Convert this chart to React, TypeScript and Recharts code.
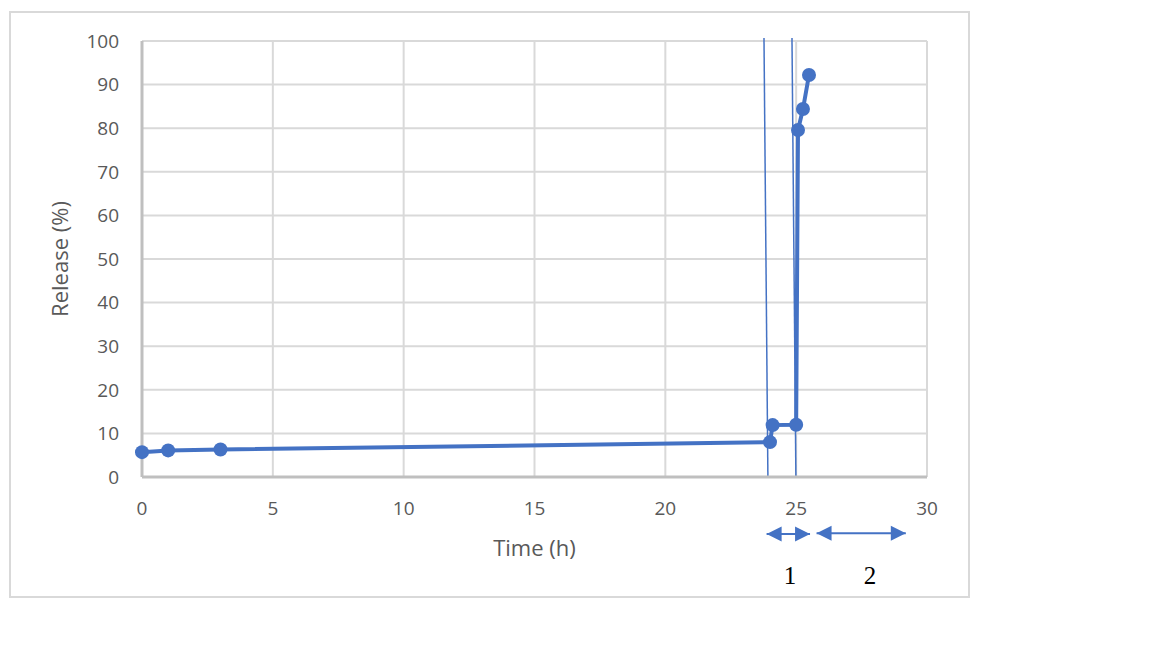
import React from 'react';
import {
  LineChart,
  Line,
  XAxis,
  YAxis,
  CartesianGrid,
  ReferenceLine,
  ReferenceDot,
} from 'recharts';

// release measurements
const times = [0, 1, 3, 24, 24.1, 25, 25.07, 25.26, 25.49];
const release = [5.7, 6.1, 6.3, 8.0, 11.9, 12.0, 79.6, 84.4, 92.2];

const xTicks = [0, 5, 10, 15, 20, 25, 30];
const yTicks = [0, 10, 20, 30, 40, 50, 60, 70, 80, 90, 100];

// hand-drawn marker lines (top x, bottom x)
const markerTopX = [23.77, 24.84];
const markerBottomX = [23.92, 24.99];
const markerTopY = 100.7;

// phase arrows below the axis
const arrowStart = [23.87, 25.78];
const arrowEnd = [25.53, 29.19];
const arrowY = [-13.1, -12.9];
const phaseLabels = ['1', '2'];
const phaseLabelX = [24.76, 27.82];
const phaseLabelY = -22.7;

const data = times.map((t, i) => ({ time: t, release: release[i] }));

const BLUE = '#4472C4';
const TEXT = '#595959';
const FONT = '"Open Sans", "Liberation Sans", sans-serif';

const ArrowHead = (dir: number) => (props: any) => {
  const { cx, cy } = props;
  const len = 15;
  const half = 7.5;
  const bx = cx - dir * len;
  return (
    <polygon
      points={`${cx},${cy} ${bx},${cy - half} ${bx},${cy + half}`}
      fill={BLUE}
    />
  );
};

const PhaseText = (text: string) => (props: any) => (
  <text
    x={props.cx}
    y={props.cy}
    textAnchor="middle"
    dominantBaseline="central"
    fontFamily='"Liberation Serif", "DejaVu Serif", serif'
    fontSize={25}
    fill="#000"
  >
    {text}
  </text>
);

export default function App() {
  return (
    <div style={{ position: 'relative', width: 1136, height: 632 }}>
      <div
        style={{
          position: 'absolute',
          left: 1,
          top: 3,
          width: 961,
          height: 587,
          border: '2px solid #d9d9d9',
          boxSizing: 'border-box',
        }}
      />
      <div style={{ position: 'absolute', left: 0, top: 0 }}>
        <LineChart
          width={1000}
          height={620}
          data={data}
          margin={{ top: 33, right: 81, left: 34, bottom: 71 }}
        >
          <CartesianGrid stroke="#d9d9d9" strokeWidth={2} />
          <XAxis
            dataKey="time"
            type="number"
            domain={[0, 30]}
            ticks={xTicks}
            height={80}
            tickLine={false}
            tickMargin={19}
            axisLine={{ stroke: '#bfbfbf', strokeWidth: 3 }}
            tick={{ fill: TEXT, fontSize: 19, fontFamily: FONT }}
            label={{
              value: 'Time (h)',
              position: 'insideBottom',
              offset: 1,
              style: { fill: TEXT, fontSize: 22, fontFamily: FONT },
            }}
          />
          <YAxis
            type="number"
            domain={[0, 100]}
            ticks={yTicks}
            width={100}
            tickLine={false}
            tickMargin={17}
            axisLine={{ stroke: '#bfbfbf', strokeWidth: 3 }}
            tick={{ fill: TEXT, fontSize: 19, fontFamily: FONT }}
            label={{
              value: 'Release (%)',
              angle: -90,
              position: 'insideLeft',
              offset: 18,
              style: { fill: TEXT, fontSize: 22, fontFamily: FONT, textAnchor: 'middle' },
            }}
          />
          {markerTopX.map((x, i) => (
            <ReferenceLine
              key={`m${i}`}
              segment={[
                { x, y: markerTopY },
                { x: markerBottomX[i], y: 0 },
              ]}
              stroke={BLUE}
              strokeWidth={1.5}
              ifOverflow="visible"
            />
          ))}
          <Line
            type="linear"
            dataKey="release"
            stroke={BLUE}
            strokeWidth={4}
            dot={{ r: 7, fill: BLUE, stroke: BLUE, strokeWidth: 0 }}
            isAnimationActive={false}
          />
          {arrowStart.map((x, i) => (
            <ReferenceLine
              key={`a${i}`}
              segment={[
                { x, y: arrowY[i] },
                { x: arrowEnd[i], y: arrowY[i] },
              ]}
              stroke={BLUE}
              strokeWidth={2}
              ifOverflow="visible"
            />
          ))}
          {arrowStart.map((x, i) => (
            <ReferenceDot
              key={`hs${i}`}
              x={x}
              y={arrowY[i]}
              ifOverflow="visible"
              shape={ArrowHead(-1)}
            />
          ))}
          {arrowEnd.map((x, i) => (
            <ReferenceDot
              key={`he${i}`}
              x={x}
              y={arrowY[i]}
              ifOverflow="visible"
              shape={ArrowHead(1)}
            />
          ))}
          {phaseLabels.map((t, i) => (
            <ReferenceDot
              key={`l${i}`}
              x={phaseLabelX[i]}
              y={phaseLabelY}
              ifOverflow="visible"
              shape={PhaseText(t)}
            />
          ))}
        </LineChart>
      </div>
    </div>
  );
}
